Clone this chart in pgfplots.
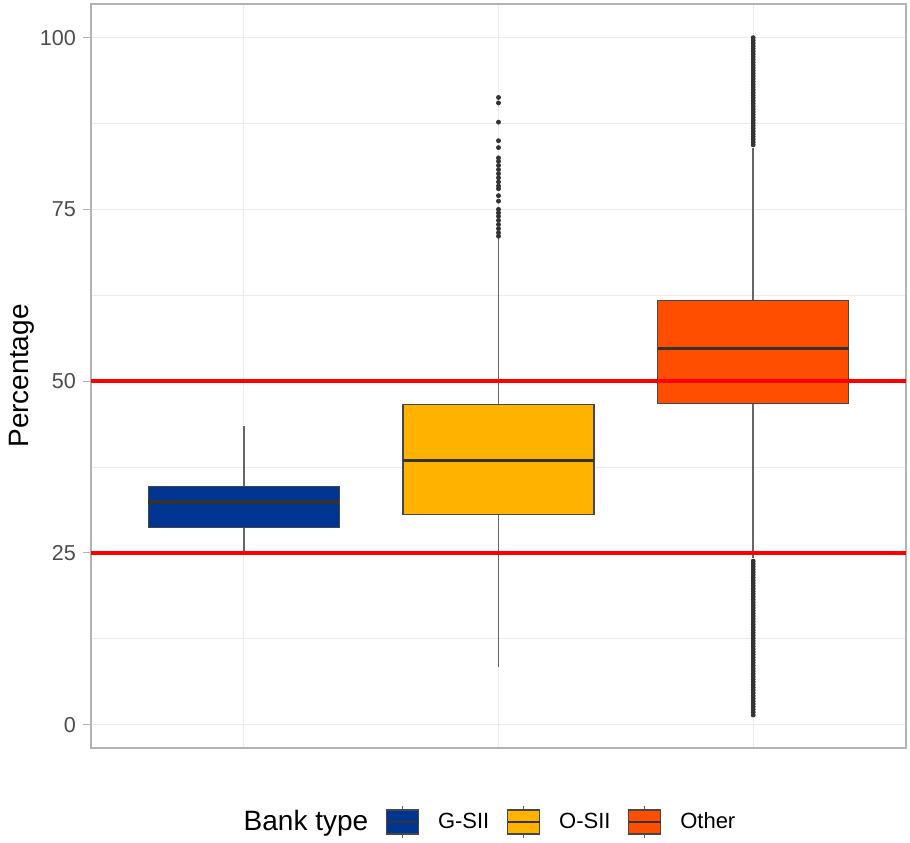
\documentclass[border=0pt]{standalone}
\usepackage{pgfplots}
\pgfplotsset{compat=1.18}
\usepgfplotslibrary{statistics}
\usepackage{fontspec}
\setmainfont{Liberation Sans}
\definecolor{gsii}{HTML}{003591}
\definecolor{osii}{HTML}{FFB300}
\definecolor{other}{HTML}{FF4E00}
\definecolor{edge}{HTML}{333333}
\definecolor{gridc}{HTML}{EBEBEB}
\definecolor{borderc}{HTML}{B3B3B3}
\definecolor{tickc}{HTML}{4D4D4D}
\pgfplotsset{
  mybox/.style={
    /pgfplots/boxplot/draw direction=y,
    /pgfplots/boxplot/box extend=0.75,
    /pgfplots/boxplot/whisker extend=0,
    /pgfplots/boxplot/every box/.style={fill=#1, draw=edge!90, line width=0.6pt},
    /pgfplots/boxplot/every median/.style={draw=edge, line width=1.6pt},
    /pgfplots/boxplot/every whisker/.style={draw=edge!75, line width=0.7pt},
  },
}
\begin{document}
\begin{tikzpicture}
\begin{axis}[
  scale only axis, width=407.5pt, height=372pt,
  xmin=0.4, xmax=3.6, ymin=-3.4, ymax=104.9,
  xtick={1,2,3}, xticklabels={},
  ytick={0,25,50,75,100},
  minor ytick={12.5,37.5,62.5,87.5},
  grid=both,
  major grid style={gridc, line width=0.6pt},
  minor grid style={gridc, line width=0.35pt},
  axis line style={borderc, line width=0.6pt},
  tick pos=left, tick align=outside,
  major tick length=4pt, minor tick length=0pt,
  ytick style={borderc, line width=0.5pt},
  xtick style={draw=none},
  /pgf/number format/assume math mode=true,
  yticklabel style={font=\fontsize{10.8}{12}\selectfont, color=tickc},
  ylabel={Percentage},
  ylabel shift=-4pt,
  ylabel style={font=\fontsize{14}{16}\selectfont, color=black},
  legend columns=-1,
  legend style={draw=none, fill=none, at={(axis description cs:0.5,0)}, anchor=center,
    yshift=-37pt, xshift=-8pt,
    font=\fontsize{11}{13}\selectfont,
    /tikz/every odd column/.style={column sep=7pt},
    /tikz/every even column/.style={column sep=6.5pt}},
]
% G-SII
\addplot[forget plot, draw=edge, mark=*, mark size=1pt, mark options={fill=black!80, draw=black!80},
  mybox=gsii,
  boxplot prepared={draw position=1, median=32.4, upper quartile=34.7, lower quartile=28.7,
    upper whisker=43.4, lower whisker=25.2}] coordinates {};
% O-SII
\addplot[forget plot, draw=edge, mark=*, mark size=1pt, mark options={fill=black!80, draw=black!80},
  mybox=osii,
  boxplot prepared={draw position=2, median=38.5, upper quartile=46.6, lower quartile=30.6,
    upper whisker=70.8, lower whisker=8.4}] coordinates {
  (2,91.3) (2,90.5) (2,87.7) (2,85.0) (2,84.0) (2,82.5) (2,82.0) (2,81.4) (2,80.8) (2,80.2)
  (2,79.6) (2,79.0) (2,78.4) (2,78.0) (2,77.0) (2,76.2) (2,75.0) (2,74.5) (2,74.0) (2,73.4)
  (2,72.8) (2,72.2) (2,71.6) (2,71.1)
};
% Other
\addplot[forget plot, draw=edge, mark=*, mark size=1pt, mark options={fill=black!80, draw=black!80},
  mybox=other,
  boxplot prepared={draw position=3, median=54.7, upper quartile=61.7, lower quartile=46.7,
    upper whisker=84.0, lower whisker=24.2}] coordinates {
  (3,84.4) (3,84.8) (3,85.2) (3,85.6) (3,86.0) (3,86.4) (3,86.8) (3,87.2) (3,87.6) (3,88.0)
  (3,88.4) (3,88.8) (3,89.2) (3,89.6) (3,90.0) (3,90.4) (3,90.8) (3,91.2) (3,91.6) (3,92.0)
  (3,92.4) (3,92.8) (3,93.2) (3,93.6) (3,94.0) (3,94.4) (3,94.8) (3,95.2) (3,95.6) (3,96.0)
  (3,96.4) (3,96.8) (3,97.2) (3,97.6) (3,98.0) (3,98.4) (3,98.8) (3,99.2) (3,99.6) (3,100.0)
  (3,1.4) (3,1.8) (3,2.2) (3,2.6) (3,3.0) (3,3.4) (3,3.8) (3,4.2) (3,4.6) (3,5.0)
  (3,5.4) (3,5.8) (3,6.2) (3,6.6) (3,7.0) (3,7.4) (3,7.8) (3,8.2) (3,8.6) (3,9.0)
  (3,9.4) (3,9.8) (3,10.2) (3,10.6) (3,11.0) (3,11.4) (3,11.8) (3,12.2) (3,12.6) (3,13.0)
  (3,13.4) (3,13.8) (3,14.2) (3,14.6) (3,15.0) (3,15.4) (3,15.8) (3,16.2) (3,16.6) (3,17.0)
  (3,17.4) (3,17.8) (3,18.2) (3,18.6) (3,19.0) (3,19.4) (3,19.8) (3,20.2) (3,20.6) (3,21.0)
  (3,21.4) (3,21.8) (3,22.2) (3,22.6) (3,23.0) (3,23.4) (3,23.8)
};
% reference lines
\addplot[forget plot, red, line width=2pt] coordinates {(0.4,25) (3.6,25)};
\addplot[forget plot, red, line width=2pt] coordinates {(0.4,50) (3.6,50)};
% legend
\addlegendimage{empty legend}
\addlegendentry{\fontsize{14}{16}\selectfont Bank type\hspace{-1.5pt}}
\addlegendimage{legend image code/.code={
  \draw[edge!75, line width=0.6pt] (8pt,-8pt) -- (8pt,8pt);
  \filldraw[fill=gsii, draw=edge!90, line width=0.6pt] (0pt,-6pt) rectangle (16pt,6pt);
  \draw[edge, line width=1.4pt] (0pt,0pt) -- (16pt,0pt);}}
\addlegendentry{G-SII}
\addlegendimage{legend image code/.code={
  \draw[edge!75, line width=0.6pt] (8pt,-8pt) -- (8pt,8pt);
  \filldraw[fill=osii, draw=edge!90, line width=0.6pt] (0pt,-6pt) rectangle (16pt,6pt);
  \draw[edge, line width=1.4pt] (0pt,0pt) -- (16pt,0pt);}}
\addlegendentry{O-SII}
\addlegendimage{legend image code/.code={
  \draw[edge!75, line width=0.6pt] (8pt,-8pt) -- (8pt,8pt);
  \filldraw[fill=other, draw=edge!90, line width=0.6pt] (0pt,-6pt) rectangle (16pt,6pt);
  \draw[edge, line width=1.4pt] (0pt,0pt) -- (16pt,0pt);}}
\addlegendentry{Other}
\end{axis}
\path ([shift={(-45.5pt,-47pt)}]current axis.south west) rectangle ([shift={(2pt,2pt)}]current axis.north east);
\end{tikzpicture}
\end{document}
